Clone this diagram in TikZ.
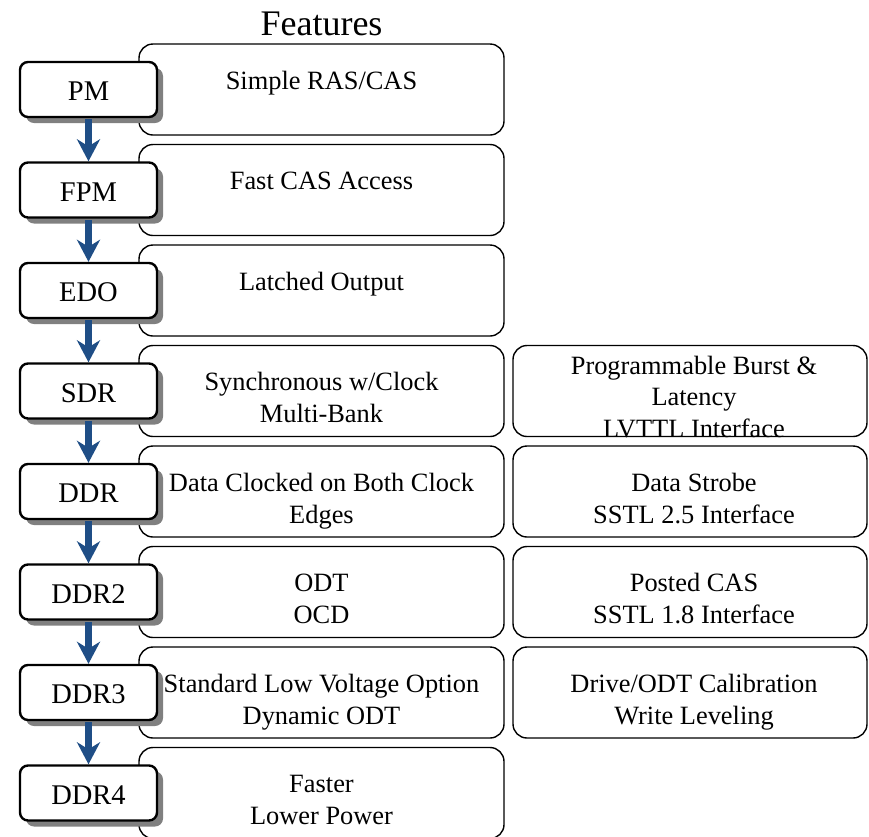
\documentclass[tikz,border=0pt]{standalone}
\usepackage{fontspec}
\setmainfont{Liberation Serif}
\usetikzlibrary{arrows.meta,shadows}
\definecolor{arrowblue}{HTML}{1F4E86}
\definecolor{shadowgray}{HTML}{808080}

\begin{document}
\begin{tikzpicture}[x=1pt,y=-1pt,
  featurebox/.style={draw=black, line width=1.4pt, rounded corners=14pt, fill=white,
    minimum width=365pt, minimum height=91pt, inner sep=0pt},
  extrabox/.style={featurebox, minimum width=354pt},
  versionbox/.style={draw=black, line width=2.4pt, rounded corners=8pt, fill=white,
    minimum width=137pt, minimum height=55pt, inner sep=0pt,
    drop shadow={shadow xshift=6pt, shadow yshift=-6pt, fill=shadowgray, opacity=1}},
  ftext/.style={font=\fontsize{26.4}{32}\selectfont, anchor=base, inner sep=0pt},
  vtext/.style={font=\fontsize{28.5}{34}\selectfont, anchor=base, inner sep=0pt},
  titletext/.style={font=\fontsize{36}{42}\selectfont, anchor=base, inner sep=0pt},
  flow/.style={draw=arrowblue, line width=7pt, shorten <=1.2pt,
    -{Stealth[length=22pt,width=23pt,inset=7pt]}}]

\useasboundingbox (0,0) rectangle (869,836);

% title
\node[titletext] (title) at (321.5,35) {Features};

% feature boxes, one per generation
\node[featurebox] (f1) at (321.5,89.5) {};
\node[featurebox] (f2) at (321.5,190) {};
\node[featurebox] (f3) at (321.5,290.5) {};
\node[featurebox] (f4) at (321.5,391) {};
\node[featurebox] (f5) at (321.5,491.5) {};
\node[featurebox] (f6) at (321.5,592) {};
\node[featurebox] (f7) at (321.5,692.5) {};
\node[featurebox] (f8) at (321.5,793) {};

% additional feature boxes
\node[extrabox] (e4) at (690,391) {};
\node[extrabox] (e5) at (690,491.5) {};
\node[extrabox] (e6) at (690,592) {};
\node[extrabox] (e7) at (690,692.5) {};

% feature texts
\node[ftext] (f1a) at (321.5,89) {Simple RAS/CAS};
\node[ftext] (f2a) at (321.5,189.5) {Fast CAS Access};
\node[ftext] (f3a) at (321.5,290) {Latched Output};
\node[ftext] (f4a) at (321.5,390.5) {Synchronous w/Clock};
\node[ftext] (f4b) at (321.5,422.5) {Multi-Bank};
\node[ftext] (f5a) at (321.5,491.5) {Data Clocked on Both Clock};
\node[ftext] (f5b) at (321.5,523.5) {Edges};
\node[ftext] (f6a) at (321.5,591) {ODT};
\node[ftext] (f6b) at (321.5,623) {OCD};
\node[ftext] (f7a) at (321.5,692) {Standard Low Voltage Option};
\node[ftext] (f7b) at (321.5,724) {Dynamic ODT};
\node[ftext] (f8a) at (321.5,792.5) {Faster};
\node[ftext] (f8b) at (321.5,824.5) {Lower Power};

\node[ftext] (e4a) at (694,374) {Programmable Burst \&};
\node[ftext] (e4b) at (694,405.5) {Latency};
\node[ftext] (e4c) at (694,437) {LVTTL Interface};
\node[ftext] (e5a) at (694,491.5) {Data Strobe};
\node[ftext] (e5b) at (694,523.5) {SSTL 2.5 Interface};
\node[ftext] (e6a) at (694,591) {Posted CAS};
\node[ftext] (e6b) at (694,623) {SSTL 1.8 Interface};
\node[ftext] (e7a) at (694,692) {Drive/ODT Calibration};
\node[ftext] (e7b) at (694,724) {Write Leveling};

% generation boxes
\node[versionbox] (v1) at (88.5,89.5) {};
\node[versionbox] (v2) at (88.5,190) {};
\node[versionbox] (v3) at (88.5,290.5) {};
\node[versionbox] (v4) at (88.5,391) {};
\node[versionbox] (v5) at (88.5,491.5) {};
\node[versionbox] (v6) at (88.5,592) {};
\node[versionbox] (v7) at (88.5,692.5) {};
\node[versionbox] (v8) at (88.5,793) {};

\node[vtext] (v1t) at (88.5,100.5) {PM};
\node[vtext] (v2t) at (88.5,201) {FPM};
\node[vtext] (v3t) at (88.5,301.5) {EDO};
\node[vtext] (v4t) at (88.5,402) {SDR};
\node[vtext] (v5t) at (88.5,502.5) {DDR};
\node[vtext] (v6t) at (88.5,603) {DDR2};
\node[vtext] (v7t) at (88.5,703.5) {DDR3};
\node[vtext] (v8t) at (88.5,804) {DDR4};

% evolution arrows
\draw[flow] (v1.south) -- (v2.north);
\draw[flow] (v2.south) -- (v3.north);
\draw[flow] (v3.south) -- (v4.north);
\draw[flow] (v4.south) -- (v5.north);
\draw[flow] (v5.south) -- (v6.north);
\draw[flow] (v6.south) -- (v7.north);
\draw[flow] (v7.south) -- (v8.north);

\end{tikzpicture}
\end{document}
